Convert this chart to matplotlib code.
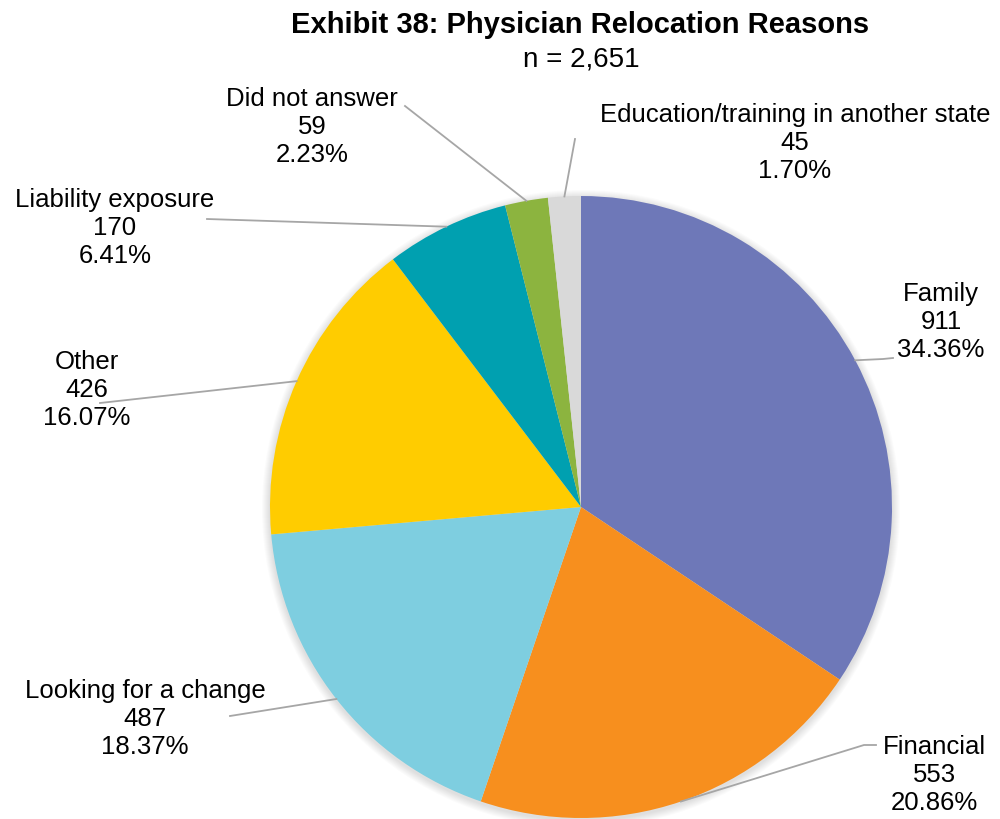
import matplotlib.pyplot as plt
import numpy as np

plt.rcParams['font.family'] = ['Liberation Sans', 'DejaVu Sans']

reasons = ['Family', 'Financial', 'Looking for a change', 'Other',
           'Liability exposure', 'Did not answer',
           'Education/training in another state']
counts = [911, 553, 487, 426, 170, 59, 45]
colors = ['#6E78B8', '#F78F1E', '#7ECEE0', '#FFCC00', '#00A0B0', '#8CB43F', '#D9D9D9']
total = 2651

W, H = 1000, 820
fig = plt.figure(figsize=(10, 8.2), dpi=100)
ax = fig.add_axes([0, 0, 1, 1])

cx, cy, r = 581, H - 508, 311

# soft shadow under the pie
for k in range(8):
    ax.add_patch(plt.Circle((cx, cy - 2), r + 8 - k, color='black',
                            alpha=0.014, lw=0, zorder=0))

wedges, _ = ax.pie(counts, colors=colors, startangle=90, counterclock=False,
                   center=(cx, cy), radius=r, frame=True,
                   wedgeprops=dict(linewidth=0))
ax.set_xlim(0, W)
ax.set_ylim(0, H)
ax.set_aspect('equal')
ax.axis('off')

# label centre and elbow of the leader line, in pixels from the top-left
label_pos = [(941, 322), (934, 775), (145, 719), (87, 390),
             (115, 228), (312, 127), (795, 143)]
elbows = [(883, 360), (864, 746), (230, 717), (100, 404),
          (207, 220), (405, 107), (575, 140)]
tips = [(893, 359), (876, 746), None, None, None, None, None]

for w, n, name, (lx, ly), (ex, ey), tip in zip(wedges, counts, reasons,
                                               label_pos, elbows, tips):
    mid = np.deg2rad((w.theta1 + w.theta2) / 2)
    sx, sy = cx + r * np.cos(mid), cy + r * np.sin(mid)
    xs, ys = [sx, ex], [sy, H - ey]
    if tip is not None:
        xs.append(tip[0])
        ys.append(H - tip[1])
    ax.plot(xs, ys, color='#A6A6A6', lw=1.3, zorder=1)
    ax.text(lx, H - ly, f'{name}\n{n}\n{n / total * 100:.2f}%',
            ha='center', va='center', multialignment='center',
            fontsize=18.5, linespacing=1.2, color='black', zorder=3)

ax.text(580, H - 25, 'Exhibit 38: Physician Relocation Reasons',
        ha='center', va='center', fontsize=21, fontweight='bold')
ax.text(581, H - 60, 'n = 2,651', ha='center', va='center', fontsize=20)

fig.savefig('out.png', dpi=100)
